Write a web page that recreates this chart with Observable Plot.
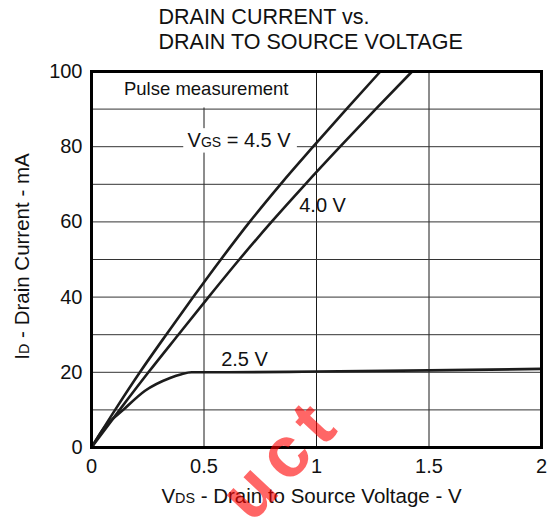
<!DOCTYPE html>
<html>
<head>
<meta charset="utf-8">
<script src="https://cdn.jsdelivr.net/npm/d3@7"></script>
<script src="https://cdn.jsdelivr.net/npm/@observablehq/plot@0.6"></script>
<style>
  html, body { margin: 0; padding: 0; background: #fff; }
  #chart { width: 555px; height: 518px; overflow: hidden; }
</style>
</head>
<body>
<div id="chart"></div>
<script>
// ---- Data ----
const titleLines = ["DRAIN CURRENT vs.", "DRAIN TO SOURCE VOLTAGE"];
const xLabel = "V_{DS} - Drain to Source Voltage - V";
const yLabel = "I_{D} - Drain Current - mA";
const xTicks = [0, 0.5, 1, 1.5, 2];
const yTicks = [0, 20, 40, 60, 80, 100];
const xGrid = [0.5, 1, 1.5];
const yGrid = [10, 20, 30, 40, 50, 60, 70, 80, 90];

const series = ["4.5 V", "4.0 V", "2.5 V"];
// VGS = 4.5 V
const vds45 = [0, 0.105, 0.215, 0.332, 0.452, 0.575, 0.703, 0.840, 0.985, 1.133, 1.284];
const id45  = [0, 10, 20, 30, 40, 50, 60, 70, 80, 90, 100];
// VGS = 4.0 V
const vds40 = [0, 0.125, 0.253, 0.386, 0.520, 0.657, 0.800, 0.950, 1.105, 1.263, 1.425];
const id40  = [0, 10, 20, 30, 40, 50, 60, 70, 80, 90, 100];
// VGS = 2.5 V
const vds25 = [0, 0.053, 0.141, 0.238, 0.349, 0.40, 0.445, 0.6, 1.0, 1.5, 2.0];
const id25  = [0, 5, 10, 15.1, 18.5, 19.5, 20, 20, 20.2, 20.5, 20.9];

const curveLabels = ["V_{GS} = 4.5 V", "4.0 V", "2.5 V"];
const noteText = "Pulse measurement";
const watermark = "uct";

// ---- Build table ----
const rows = [];
[[vds45, id45], [vds40, id40], [vds25, id25]].forEach(([xs, ys], i) => {
  xs.forEach((x, j) => rows.push({vgs: series[i], vds: x, id: ys[j]}));
});

const font = "'Liberation Sans', Arial, Helvetica, sans-serif";
const ink = "#111";

const chart = Plot.plot({
  width: 555,
  height: 518,
  marginLeft: 91,
  marginRight: 14,
  marginTop: 71,
  marginBottom: 71,
  style: {fontFamily: font, fontSize: "20px", color: ink, background: "white", overflow: "visible"},
  x: {domain: [0, 2], label: null},
  y: {domain: [0, 100], label: null},
  marks: [
    Plot.gridX(xGrid, {stroke: "#1a1a1a", strokeOpacity: 1, strokeWidth: 1}),
    Plot.gridY(yGrid, {stroke: "#333", strokeOpacity: 1, strokeWidth: 1}),
    // white backgrounds behind annotations
    Plot.rect([0], {x1: 0, x2: 0.993, y1: 90.3, y2: 99.7, fill: "white"}),
    Plot.rect([0], {x1: 0.41, x2: 0.915, y1: 78.3, y2: 84.8, fill: "white"}),
    Plot.line(rows, {x: "vds", y: "id", z: "vgs", curve: "monotone-x", stroke: "#1c1c1c", strokeWidth: 2.6}),
    Plot.text([noteText], {x: 0.51, y: 95.3, text: d => d, fontSize: 18.5, fill: ink}),
    Plot.text([curveLabels[0]], {x: 0.656, y: 81.7, text: d => d, fontSize: 20, fill: ink}),
    Plot.text([curveLabels[1]], {x: 1.027, y: 64.3, text: d => d, fontSize: 20, fill: ink}),
    Plot.text([curveLabels[2]], {x: 0.68, y: 23.4, text: d => d, fontSize: 20, fill: ink}),
    Plot.frame({stroke: "#000", strokeWidth: 3}),
    Plot.axisX(xTicks, {tickSize: 0, tickPadding: 11, tickFormat: d => String(d), fontSize: 20, fill: ink, label: null}),
    Plot.axisY(yTicks, {tickSize: 0, tickPadding: 9, fontSize: 20, fill: ink, label: null}),
    // title
    Plot.text([titleLines[0]], {frameAnchor: "top-left", dx: 67, dy: -54, textAnchor: "start", lineAnchor: "middle", text: d => d, fontSize: 21.5, fill: ink}),
    Plot.text([titleLines[1]], {frameAnchor: "top-left", dx: 67, dy: -29.5, textAnchor: "start", lineAnchor: "middle", text: d => d, fontSize: 21.5, fill: ink}),
    // axis labels
    Plot.text([xLabel], {frameAnchor: "bottom", dx: -5, dy: 49, textAnchor: "middle", lineAnchor: "middle", text: d => d, fontSize: 20.5, fill: ink}),
    Plot.text([yLabel], {frameAnchor: "left", dx: -69, dy: -3, rotate: -90, textAnchor: "middle", lineAnchor: "middle", text: d => d, fontSize: 20.5, fill: ink}),
    // watermark
    Plot.text([watermark], {frameAnchor: "bottom-left", dx: 160, dy: 77, rotate: -47, textAnchor: "start", lineAnchor: "bottom",
      text: d => d, fontSize: 72, fontWeight: "bold", fill: "#ff0000", fillOpacity: 0.6})
  ]
});

// subscripts: replace _{..} with smaller tspans
const NS = "http://www.w3.org/2000/svg";
chart.querySelectorAll("text").forEach(t => {
  const targets = t.querySelector("tspan") ? [...t.querySelectorAll("tspan")] : [t];
  targets.forEach(el => {
    const s = el.textContent;
    if (s === watermark) el.setAttribute("letter-spacing", "10");
    if (!s.includes("_{")) return;
    const parts = s.split(/(_\{[^}]*\})/);
    el.textContent = "";
    parts.forEach(p => {
      if (!p) return;
      if (p.startsWith("_{")) {
        const sub = document.createElementNS(NS, "tspan");
        sub.setAttribute("style", "font-size:70%");
        sub.textContent = p.slice(2, -1);
        el.appendChild(sub);
      } else {
        el.appendChild(document.createTextNode(p));
      }
    });
  });
});

document.getElementById("chart").appendChild(chart);
</script>
</body>
</html>
